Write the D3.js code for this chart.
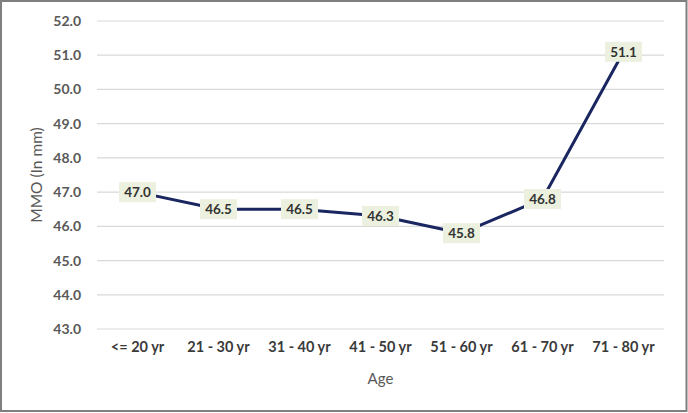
<!DOCTYPE html>
<html><head><meta charset="utf-8">
<script src="https://cdn.jsdelivr.net/npm/d3@7"></script>
<style>body{margin:0;background:#fff}svg{display:block}</style>
</head><body><svg id="c" width="688" height="413"></svg>
<script>
const categories = ["<= 20 yr","21 - 30 yr","31 - 40 yr","41 - 50 yr","51 - 60 yr","61 - 70 yr","71 - 80 yr"];
const values = [47.0, 46.5, 46.5, 46.3, 45.8, 46.8, 51.1];
const yTicks = [43,44,45,46,47,48,49,50,51,52];

const svg = d3.select("#c");
const W = 688, H = 413;
svg.append("rect").attr("x",1).attr("y",1).attr("width",W-2.5).attr("height",H-3).attr("fill","#fff").attr("stroke","#7f7f7f").attr("stroke-width",2);

const m = {l:97, r:24, t:21, b:84};
const x = d3.scaleBand().domain(categories).range([m.l, W-m.r]);
const y = d3.scaleLinear().domain([43,52]).range([H-m.b, m.t]);
const font = "Lato, 'Open Sans', sans-serif";

svg.append("g").selectAll("line").data(yTicks).join("line")
  .attr("x1",m.l).attr("x2",W-m.r).attr("y1",d=>y(d)).attr("y2",d=>y(d))
  .attr("stroke","#d9d9d9").attr("stroke-width",1.2);

const ya = svg.append("g").attr("transform",`translate(${m.l},0)`)
  .call(d3.axisLeft(y).tickValues(yTicks).tickFormat(d3.format(".1f")).tickSize(0).tickPadding(16));
ya.select(".domain").remove();
ya.selectAll("text").attr("font-family",font).attr("font-size",14).attr("font-weight",700).attr("fill","#595959");

const xa = svg.append("g").attr("transform",`translate(0,${H-m.b})`)
  .call(d3.axisBottom(x).tickSize(0).tickPadding(13));
xa.select(".domain").remove();
xa.selectAll("text").attr("font-family",font).attr("font-size",14.5).attr("font-weight",700).attr("fill","#3a3a3a");

svg.append("text").attr("x",(m.l+W-m.r)/2 ).attr("y",384).attr("text-anchor","middle")
  .attr("font-family",font).attr("font-size",15).attr("fill","#595959").text("Age");
svg.append("text").attr("transform",`translate(42,${(m.t+H-m.b)/2}) rotate(-90)`).attr("text-anchor","middle")
  .attr("font-family",font).attr("font-size",15.5).attr("fill","#595959").text("MMO (In mm)");

const line = d3.line().x((d,i)=>x(categories[i])+x.bandwidth()/2).y(d=>y(d));
svg.append("path").datum(values).attr("d",line).attr("fill","none")
  .attr("stroke","#1a2660").attr("stroke-width",3).attr("stroke-linejoin","round");

const lab = svg.append("g").selectAll("g").data(values).join("g")
  .attr("transform",(d,i)=>`translate(${x(categories[i])+x.bandwidth()/2},${y(d)})`);
lab.append("rect").attr("x",-18.5).attr("y",-10).attr("width",37).attr("height",20).attr("fill","#ebf1de");
lab.append("text").attr("text-anchor","middle").attr("dy","0.36em")
  .attr("font-family",font).attr("font-size",13.5).attr("font-weight",700).attr("fill","#333")
  .text(d=>d3.format(".1f")(d));
</script></body></html>
